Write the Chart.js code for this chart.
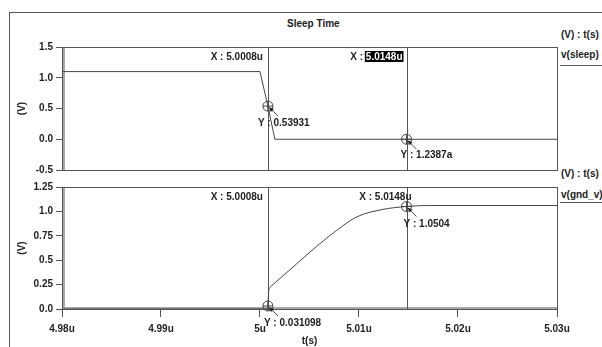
<!DOCTYPE html>
<html>
<head>
<meta charset="utf-8">
<script src="https://cdn.jsdelivr.net/npm/chart.js@4.4.1/dist/chart.umd.min.js"></script>
<style>
body{margin:0;background:#fff;width:602px;height:347px;overflow:hidden;position:relative;font-family:"Liberation Sans",Arial,sans-serif;color:#222}
.frame{position:absolute;left:9px;top:12px;width:600px;height:340px;border-top:1px solid #555;border-left:1px solid #555}
canvas{position:absolute;left:0}
.t{position:absolute;font-weight:bold;font-size:10px;line-height:12px;white-space:nowrap}
.rule{position:absolute;left:560px;width:42px;border-top:1px solid #555}
</style>
</head>
<body>
<div class="frame"></div>
<div class="t" style="left:287px;top:18px">Sleep Time</div>
<div class="t" style="left:561px;top:29px">(V) : t(s)</div>
<div class="t" style="left:561px;top:49px">v(sleep)</div>
<div class="rule" style="top:65px"></div>
<div class="t" style="left:561px;top:168px">(V) : t(s)</div>
<div class="t" style="left:561px;top:189px">v(gnd_v)</div>
<div class="rule" style="top:202px"></div>
<canvas id="topChart" width="602" height="179" style="top:0"></canvas>
<canvas id="bottomChart" width="602" height="172" style="top:175px"></canvas>
<script>
// time axis in microseconds
var timeTicks = [4.98, 4.99, 5.00, 5.01, 5.02, 5.03];
var timeTickLabels = ['4.98u', '4.99u', '5u', '5.01u', '5.02u', '5.03u'];

var sleepTicks = [-0.5, 0, 0.5, 1.0, 1.5];
var sleepTickLabels = ['-0.5', '0.0', '0.5', '1.0', '1.5'];
var gndTicks = [0, 0.25, 0.5, 0.75, 1.0, 1.25];
var gndTickLabels = ['0.0', '0.25', '0.5', '0.75', '1.0', '1.25'];

// v(sleep)
var sleepTime = [4.98, 5.0000, 5.0008, 5.0015, 5.03];
var sleepVolt = [1.1, 1.1, 0.539, 0, 0];

// v(gnd_v)
var gndTime = [4.98, 5.0007, 5.0008, 5.00088, 5.0010, 5.0012, 5.0030, 5.0057, 5.0078, 5.0098, 5.0124, 5.0148, 5.0170, 5.03];
var gndVolt = [0, 0, 0.031, 0.19, 0.22, 0.24, 0.40, 0.64, 0.81, 0.945, 1.02, 1.0504, 1.06, 1.06];

// cursors
var cursorTimes = [5.0008, 5.0148];
var cursorXLabels = ['5.0008u', '5.0148u'];
var sleepCursorValues = [0.53931, 1.2387e-18];
var sleepCursorLabels = ['0.53931', '1.2387a'];
var gndCursorValues = [0.031098, 1.0504];
var gndCursorLabels = ['0.031098', '1.0504'];

var FONT = '"Liberation Sans", Arial, sans-serif';
var INK = '#555';

function points(xs, ys) {
    return xs.map(function(x, i) { return {x: x, y: ys[i]}; });
}

function cursorPlugin(cfg) {
    return {
        id: 'cursors',
        beforeDatasetsDraw: function(chart) {
            var ctx = chart.ctx, a = chart.chartArea;
            ctx.save();
            ctx.fillStyle = '#a8a8a8';
            ctx.fillRect(a.left, a.top, 3, a.bottom - a.top);
            if (cfg.bottomBand) ctx.fillRect(a.left, a.bottom - 2, a.right - a.left, 3);
            ctx.strokeStyle = INK;
            ctx.lineWidth = 1;
            ctx.strokeRect(a.left + 0.5, a.top + 0.5, a.right - a.left, a.bottom - a.top);
            cursorTimes.forEach(function(t) {
                var x = Math.round(chart.scales.x.getPixelForValue(t)) + 0.5;
                ctx.beginPath();
                ctx.moveTo(x, a.top);
                ctx.lineTo(x, a.bottom);
                ctx.stroke();
            });
            ctx.restore();
        },
        afterDatasetsDraw: function(chart) {
            var ctx = chart.ctx, a = chart.chartArea;
            ctx.save();
            ctx.font = 'bold 10px ' + FONT;
            ctx.textBaseline = 'middle';
            cursorTimes.forEach(function(t, i) {
                var cx = chart.scales.x.getPixelForValue(t);
                var cy = chart.scales.y.getPixelForValue(cfg.values[i]);
                // marker
                ctx.strokeStyle = '#444';
                ctx.lineWidth = 1;
                ctx.beginPath();
                ctx.arc(cx, cy, 5, 0, Math.PI * 2);
                ctx.moveTo(cx - 5, cy); ctx.lineTo(cx + 5, cy);
                ctx.moveTo(cx, cy - 5); ctx.lineTo(cx, cy + 5);
                ctx.stroke();
                // arrow
                ctx.beginPath();
                ctx.moveTo(cx + 10, cy + 10);
                ctx.lineTo(cx + 2, cy + 2);
                ctx.stroke();
                ctx.fillStyle = '#222';
                ctx.beginPath();
                ctx.moveTo(cx + 1, cy + 1);
                ctx.lineTo(cx + 6, cy + 3);
                ctx.lineTo(cx + 3, cy + 6);
                ctx.closePath();
                ctx.fill();

                // X label
                var xr = cx + cfg.xLabel[i];
                var ly = a.top + 10;
                var valW = ctx.measureText(cursorXLabels[i]).width;
                ctx.textAlign = 'right';
                if (cfg.highlight === i) {
                    ctx.fillStyle = '#000';
                    ctx.fillRect(xr - valW - 1, ly - 6, valW + 2, 11);
                    ctx.fillStyle = '#fff';
                    ctx.fillText(cursorXLabels[i], xr, ly);
                    ctx.fillStyle = '#222';
                    ctx.fillText('X : ', xr - valW, ly);
                } else {
                    ctx.fillStyle = '#222';
                    ctx.fillText('X : ' + cursorXLabels[i], xr, ly);
                }
                // Y label
                ctx.textAlign = 'left';
                ctx.fillStyle = '#222';
                ctx.fillText('Y : ' + cfg.labels[i], cx + cfg.yLabel[i][0], cy + cfg.yLabel[i][1]);
            });
            ctx.restore();
        }
    };
}

function yAxis(min, max, ticks, labels) {
    return {
        min: min, max: max,
        afterFit: function(s) { s.width = 62; },
        afterBuildTicks: function(s) { s.ticks = ticks.map(function(v) { return {value: v}; }); },
        ticks: {
            padding: 3,
            color: '#222',
            font: {family: FONT, size: 10, weight: 'bold'},
            callback: function(v, i) { return labels[i]; }
        },
        grid: {drawOnChartArea: false, drawTicks: true, tickLength: 6, color: INK},
        border: {display: false},
        title: {display: true, text: '(V)', color: '#222', font: {family: FONT, size: 10, weight: 'bold'}, padding: {top: 16, bottom: 0}}
    };
}

function xAxis(show) {
    var axis = {
        type: 'linear', min: 4.98, max: 5.03,
        display: show,
        afterBuildTicks: function(s) { s.ticks = timeTicks.map(function(v) { return {value: v}; }); },
        ticks: {
            padding: 6,
            maxRotation: 0,
            color: '#222',
            font: {family: FONT, size: 10, weight: 'bold'},
            callback: function(v, i) { return timeTickLabels[i]; }
        },
        grid: {drawOnChartArea: false, drawTicks: true, tickLength: 8, color: INK},
        border: {display: false},
        title: {display: true, text: 't(s)', color: '#222', font: {family: FONT, size: 10, weight: 'bold'}, padding: {top: 0, bottom: 0}}
    };
    if (show) axis.afterFit = function(s) { s.height = 38; };
    return axis;
}

var common = {
    responsive: false,
    animation: false,
    events: [],
    plugins: {legend: {display: false}, tooltip: {enabled: false}},
    elements: {point: {radius: 0}}
};

new Chart(document.getElementById('topChart'), {
    type: 'line',
    data: {
        datasets: [{
            label: 'v(sleep)',
            data: points(sleepTime, sleepVolt),
            borderColor: '#444',
            borderWidth: 1,
            tension: 0
        }]
    },
    options: Object.assign({}, common, {
        layout: {padding: {left: 0, right: 45, top: 47, bottom: 6}},
        scales: {x: xAxis(false), y: yAxis(-0.5, 1.5, sleepTicks, sleepTickLabels)}
    }),
    plugins: [cursorPlugin({
        values: sleepCursorValues,
        labels: sleepCursorLabels,
        xLabel: [-5, -4],
        yLabel: [[-10, 17], [-6, 16]],
        highlight: 1
    })]
});

new Chart(document.getElementById('bottomChart'), {
    type: 'line',
    data: {
        datasets: [{
            label: 'v(gnd_v)',
            data: points(gndTime, gndVolt),
            borderColor: '#444',
            borderWidth: 1,
            cubicInterpolationMode: 'monotone'
        }]
    },
    options: Object.assign({}, common, {
        layout: {padding: {left: 0, right: 45, top: 12, bottom: 0}},
        scales: {x: xAxis(true), y: yAxis(0, 1.25, gndTicks, gndTickLabels)}
    }),
    plugins: [cursorPlugin({
        values: gndCursorValues,
        labels: gndCursorLabels,
        xLabel: [-5, 5],
        yLabel: [[-4, 17], [-3, 18]],
        bottomBand: true,
        highlight: -1
    })]
});
</script>
</body>
</html>
